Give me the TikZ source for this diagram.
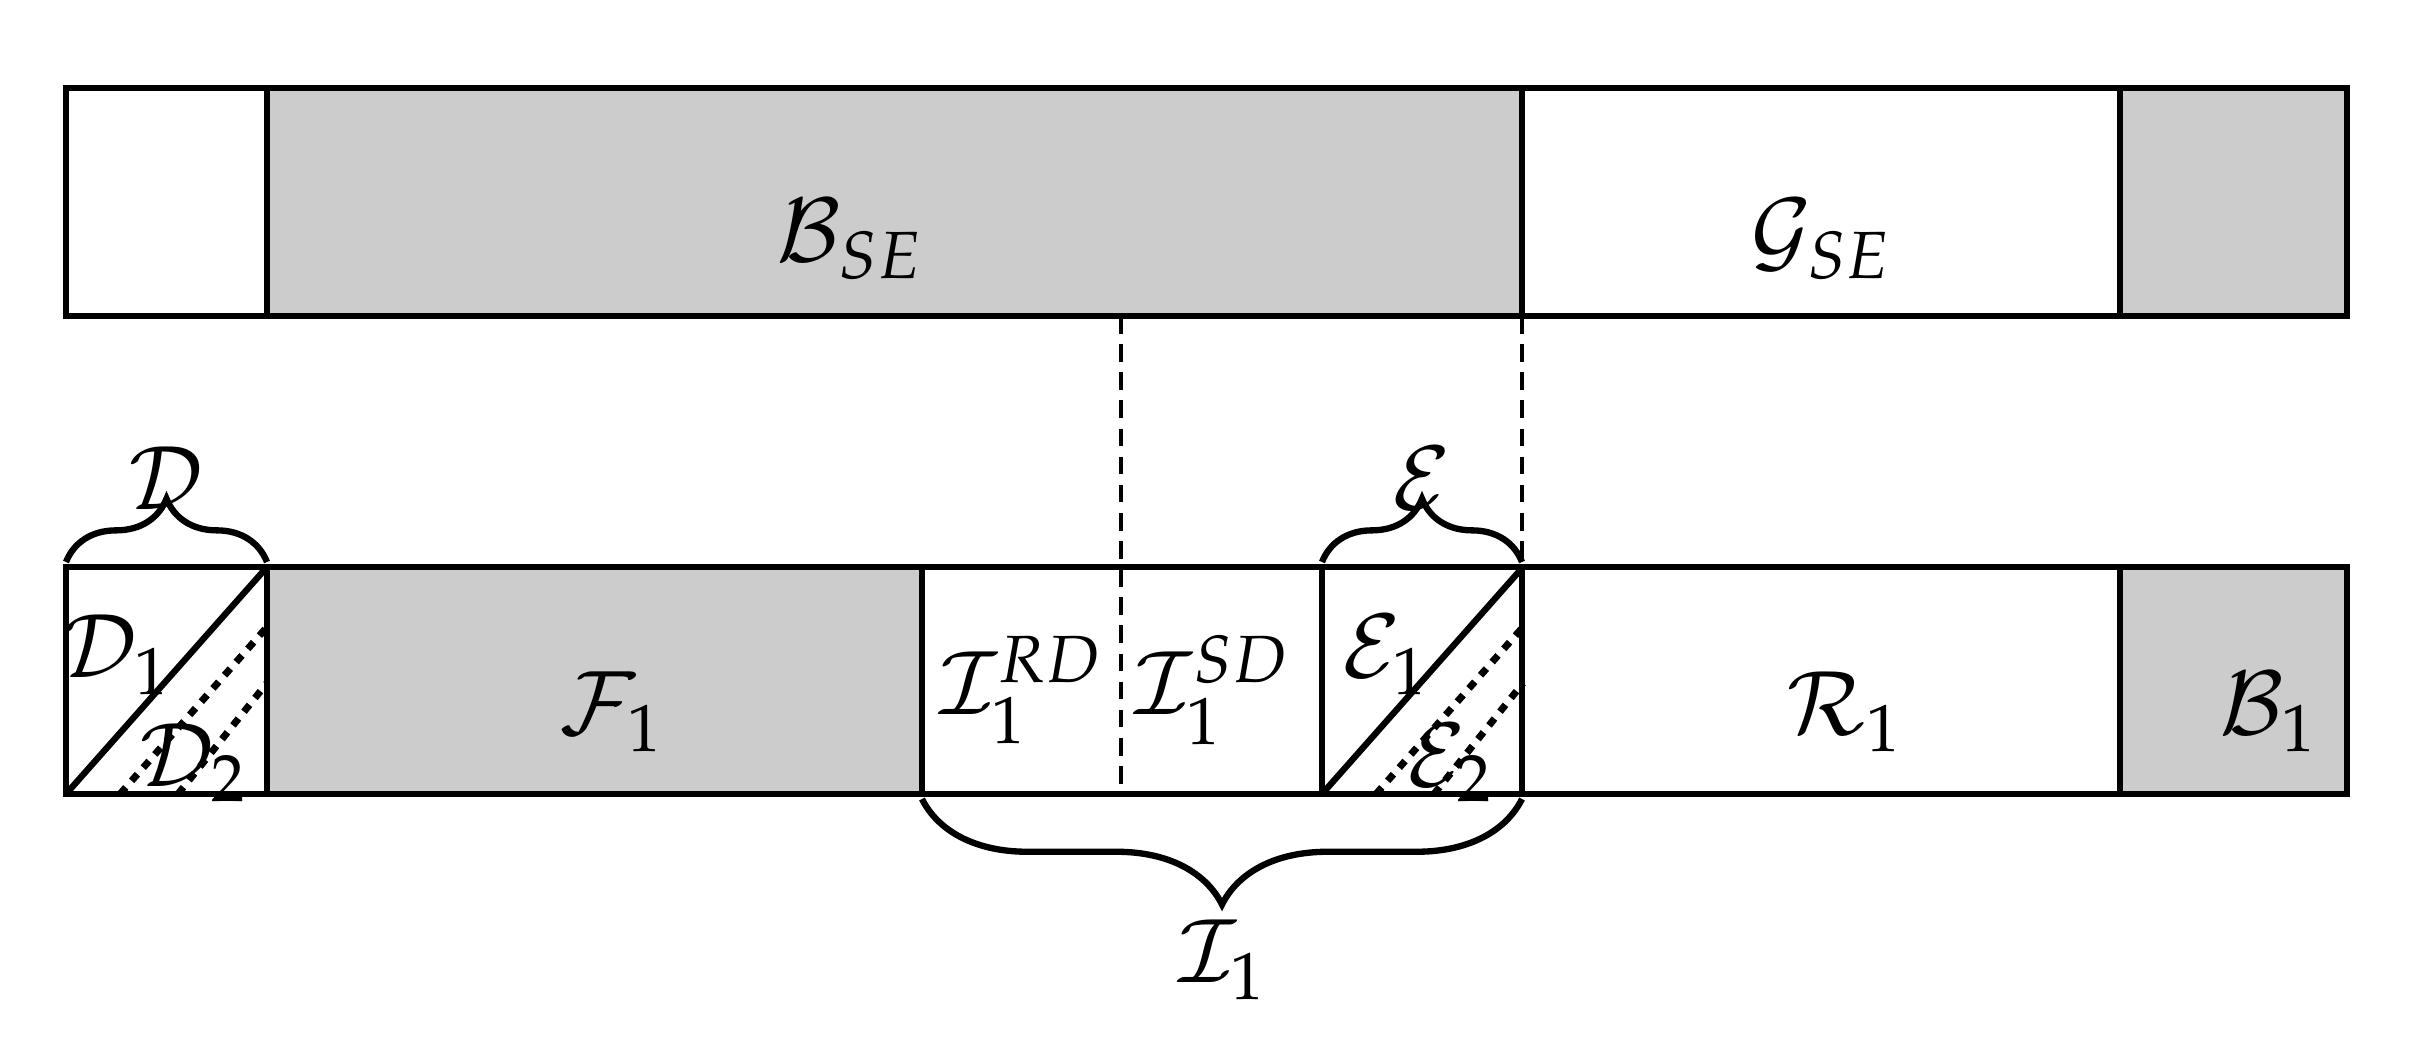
\documentclass[tikz,border=0pt]{standalone}
\usepackage{mathpazo}
\usetikzlibrary{decorations.pathreplacing}
\begin{document}
\begin{tikzpicture}[x=0.01cm,y=-0.01cm,
  box/.style={draw,line width=1.8pt},
  grey/.style={box,fill=black!20},
  lbl/.style={font=\fontsize{25}{30}\selectfont},
  dsh/.style={line width=1.4pt,dash pattern=on 5pt off 3pt},
  dot/.style={line width=2pt,dash pattern=on 2.5pt off 2.5pt},
  br/.style={line width=1.8pt,decorate,decoration={brace,amplitude=18pt}}]
\useasboundingbox (0,0) rectangle (2418,1042);
% top bar
\draw[box] (66,88) rectangle (267,316);
\draw[grey] (267,88) rectangle (1522,316);
\draw[box] (1522,88) rectangle (2120,316);
\draw[grey] (2120,88) rectangle (2347,316);
\node[lbl] (bse) at (850,239) {$\mathcal{B}_{SE}$};
\node[lbl] (gse) at (1821,239) {$\mathcal{G}_{SE}$};
% bottom bar
\draw[box] (66,567) rectangle (267,794);
\draw[grey] (267,567) rectangle (922,794);
\draw[box] (922,567) rectangle (1322,794);
\draw[box] (1322,567) rectangle (1522,794);
\draw[box] (1522,567) rectangle (2120,794);
\draw[grey] (2120,567) rectangle (2347,794);
% dashed
\coordinate (a1) at (1121,316); \coordinate (a2) at (1121,794);
\coordinate (b1) at (1522,316); \coordinate (b2) at (1522,567);
\draw[dsh] (a1) -- (a2);
\draw[dsh] (b1) -- (b2);
% diagonals
\foreach \x in {66,1322}{
  \draw[line width=1.8pt] (\x,794) -- (\x+201,567);
  \draw[dot] (\x+54,794) -- (\x+201,627);
  \draw[dot] (\x+112,794) -- (\x+201,683);
}
% labels
\node[lbl] (f1) at (611,712) {$\mathcal{F}_1$};
\node[lbl] (ird) at (1021,690) {$\mathcal{I}_1^{RD}$};
\node[lbl] (isd) at (1212,690) {$\mathcal{I}_1^{SD}$};
\node[lbl] (r1) at (1844,712) {$\mathcal{R}_1$};
\node[lbl] (b1n) at (2268,712) {$\mathcal{B}_1$};
\node[lbl] (d1) at (116,655) {$\mathcal{D}_1$};
\node[lbl] (d2) at (193,763) {$\mathcal{D}_2$};
\node[lbl] (e1) at (1385,655) {$\mathcal{E}_1$};
\node[lbl] (e2) at (1450,763) {$\mathcal{E}_2$};
% braces
\draw[br] (66,562) -- (267,562);
\node[lbl] (d) at (166,478) {$\mathcal{D}$};
\draw[br] (1322,562) -- (1522,562);
\node[lbl] (e) at (1422,478) {$\mathcal{E}$};
\draw[br,decoration={brace,amplitude=30pt,mirror}] (922,799) -- (1522,799);
\node[lbl] (i1) at (1222,960) {$\mathcal{I}_1$};
\end{tikzpicture}
\end{document}
